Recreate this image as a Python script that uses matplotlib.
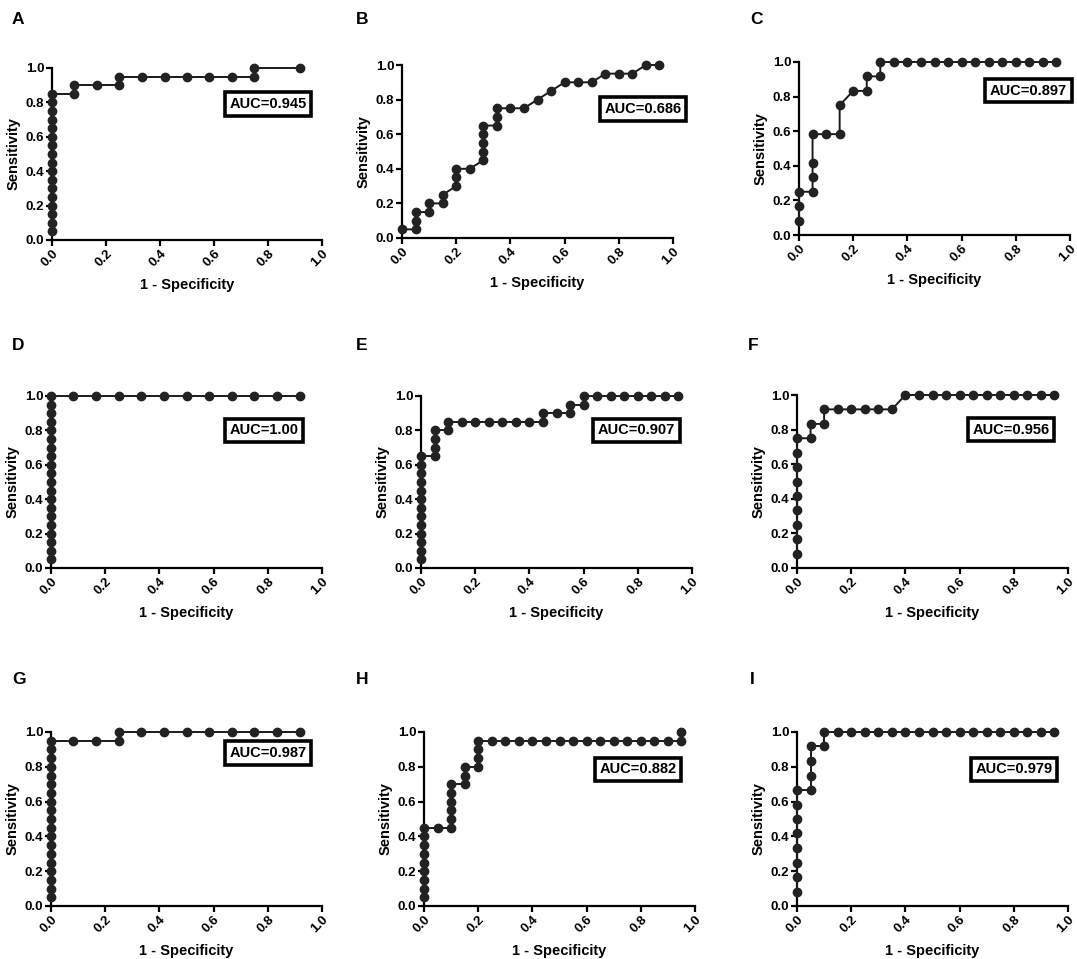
import matplotlib
matplotlib.use("Agg")
import matplotlib.pyplot as plt

plt.rcParams["font.family"] = ["Liberation Sans", "DejaVu Sans"]
plt.rcParams["font.weight"] = "bold"
plt.rcParams["axes.labelweight"] = "bold"

# ROC points per panel (1 - specificity, sensitivity)
a_x = [0, 0, 0, 0, 0, 0, 0, 0, 0, 0, 0, 0, 0, 0, 0, 0, 0,
       0.083, 0.083, 0.167, 0.25, 0.25, 0.333, 0.417, 0.5, 0.583, 0.667, 0.75, 0.75, 0.917]
a_y = [0.05, 0.10, 0.15, 0.20, 0.25, 0.30, 0.35, 0.40, 0.45, 0.50, 0.55, 0.60, 0.65, 0.70, 0.75, 0.80, 0.85,
       0.85, 0.90, 0.90, 0.90, 0.95, 0.95, 0.95, 0.95, 0.95, 0.95, 0.95, 1.00, 1.00]

b_x = [0, 0.05, 0.05, 0.05, 0.10, 0.10, 0.15, 0.15, 0.20, 0.20, 0.20, 0.25, 0.30, 0.30, 0.30, 0.30, 0.30,
       0.35, 0.35, 0.35, 0.40, 0.45, 0.50, 0.55, 0.60, 0.65, 0.70, 0.75, 0.80, 0.85, 0.90, 0.95]
b_y = [0.05, 0.05, 0.10, 0.15, 0.15, 0.20, 0.20, 0.25, 0.30, 0.35, 0.40, 0.40, 0.45, 0.50, 0.55, 0.60, 0.65,
       0.65, 0.70, 0.75, 0.75, 0.75, 0.80, 0.85, 0.90, 0.90, 0.90, 0.95, 0.95, 0.95, 1.00, 1.00]

c_x = [0, 0, 0, 0.05, 0.05, 0.05, 0.05, 0.10, 0.15, 0.15, 0.20, 0.25, 0.25, 0.30, 0.30,
       0.35, 0.40, 0.45, 0.50, 0.55, 0.60, 0.65, 0.70, 0.75, 0.80, 0.85, 0.90, 0.95]
c_y = [0.083, 0.167, 0.25, 0.25, 0.333, 0.417, 0.583, 0.583, 0.583, 0.75, 0.833, 0.833, 0.917, 0.917, 1.0,
       1.0, 1.0, 1.0, 1.0, 1.0, 1.0, 1.0, 1.0, 1.0, 1.0, 1.0, 1.0, 1.0]

d_x = [0, 0, 0, 0, 0, 0, 0, 0, 0, 0, 0, 0, 0, 0, 0, 0, 0, 0, 0, 0,
       0.083, 0.167, 0.25, 0.333, 0.417, 0.5, 0.583, 0.667, 0.75, 0.833, 0.917]
d_y = [0.05, 0.10, 0.15, 0.20, 0.25, 0.30, 0.35, 0.40, 0.45, 0.50, 0.55, 0.60, 0.65, 0.70, 0.75, 0.80, 0.85,
       0.90, 0.95, 1.00,
       1.0, 1.0, 1.0, 1.0, 1.0, 1.0, 1.0, 1.0, 1.0, 1.0, 1.0]

e_x = [0, 0, 0, 0, 0, 0, 0, 0, 0, 0, 0, 0, 0,
       0.05, 0.05, 0.05, 0.05, 0.10, 0.10, 0.15, 0.20, 0.25, 0.30, 0.35, 0.40, 0.45, 0.45, 0.50,
       0.55, 0.55, 0.60, 0.60, 0.65, 0.70, 0.75, 0.80, 0.85, 0.90, 0.95]
e_y = [0.05, 0.10, 0.15, 0.20, 0.25, 0.30, 0.35, 0.40, 0.45, 0.50, 0.55, 0.60, 0.65,
       0.65, 0.70, 0.75, 0.80, 0.80, 0.85, 0.85, 0.85, 0.85, 0.85, 0.85, 0.85, 0.85, 0.90, 0.90,
       0.90, 0.95, 0.95, 1.00, 1.00, 1.00, 1.00, 1.00, 1.00, 1.00, 1.00]

f_x = [0, 0, 0, 0, 0, 0, 0, 0, 0, 0.05, 0.05, 0.10, 0.10, 0.15, 0.20, 0.25, 0.30, 0.35,
       0.40, 0.45, 0.50, 0.55, 0.60, 0.65, 0.70, 0.75, 0.80, 0.85, 0.90, 0.95]
f_y = [0.083, 0.167, 0.25, 0.333, 0.417, 0.5, 0.583, 0.667, 0.75, 0.75, 0.833, 0.833, 0.917,
       0.917, 0.917, 0.917, 0.917, 0.917,
       1.0, 1.0, 1.0, 1.0, 1.0, 1.0, 1.0, 1.0, 1.0, 1.0, 1.0, 1.0]

g_x = [0, 0, 0, 0, 0, 0, 0, 0, 0, 0, 0, 0, 0, 0, 0, 0, 0, 0, 0,
       0.083, 0.167, 0.25, 0.25, 0.333, 0.417, 0.5, 0.583, 0.667, 0.75, 0.833, 0.917]
g_y = [0.05, 0.10, 0.15, 0.20, 0.25, 0.30, 0.35, 0.40, 0.45, 0.50, 0.55, 0.60, 0.65, 0.70, 0.75, 0.80, 0.85,
       0.90, 0.95,
       0.95, 0.95, 0.95, 1.0, 1.0, 1.0, 1.0, 1.0, 1.0, 1.0, 1.0, 1.0]

h_x = [0, 0, 0, 0, 0, 0, 0, 0, 0, 0.05, 0.10, 0.10, 0.10, 0.10, 0.10, 0.10, 0.15, 0.15, 0.15,
       0.20, 0.20, 0.20, 0.20, 0.25, 0.30, 0.35, 0.40, 0.45, 0.50, 0.55, 0.60, 0.65, 0.70,
       0.75, 0.80, 0.85, 0.90, 0.95, 0.95]
h_y = [0.05, 0.10, 0.15, 0.20, 0.25, 0.30, 0.35, 0.40, 0.45, 0.45, 0.45, 0.50, 0.55, 0.60, 0.65, 0.70,
       0.70, 0.75, 0.80, 0.80, 0.85, 0.90, 0.95, 0.95, 0.95, 0.95, 0.95, 0.95, 0.95, 0.95, 0.95,
       0.95, 0.95, 0.95, 0.95, 0.95, 0.95, 0.95, 1.00]

i_x = [0, 0, 0, 0, 0, 0, 0, 0, 0.05, 0.05, 0.05, 0.05, 0.10, 0.10,
       0.15, 0.20, 0.25, 0.30, 0.35, 0.40, 0.45, 0.50, 0.55, 0.60, 0.65, 0.70, 0.75, 0.80, 0.85, 0.90, 0.95]
i_y = [0.083, 0.167, 0.25, 0.333, 0.417, 0.5, 0.583, 0.667, 0.667, 0.75, 0.833, 0.917, 0.917, 1.0,
       1.0, 1.0, 1.0, 1.0, 1.0, 1.0, 1.0, 1.0, 1.0, 1.0, 1.0, 1.0, 1.0, 1.0, 1.0, 1.0, 1.0]

panel_letters = ["A", "B", "C", "D", "E", "F", "G", "H", "I"]
auc_labels = ["AUC=0.945", "AUC=0.686", "AUC=0.897", "AUC=1.00", "AUC=0.907",
              "AUC=0.956", "AUC=0.987", "AUC=0.882", "AUC=0.979"]
xs = [a_x, b_x, c_x, d_x, e_x, f_x, g_x, h_x, i_x]
ys = [a_y, b_y, c_y, d_y, e_y, f_y, g_y, h_y, i_y]

# layout in pixels: (x0, x1, y_top, y_bottom) of the plot area
W, H = 1077, 959
boxes = [(52, 322, 68, 240), (402, 673, 65, 238), (799, 1070, 62, 235),
         (51, 322, 396, 568), (421, 692, 396, 568), (797, 1068, 395, 568),
         (51, 322, 732, 906), (424, 695, 732, 906), (797, 1068, 732, 906)]
auc_pos = [(0.80, 0.79), (0.89, 0.745), (0.847, 0.835),
           (0.785, 0.80), (0.795, 0.80), (0.79, 0.80),
           (0.80, 0.88), (0.79, 0.785), (0.80, 0.785)]
letter_pos = [(12, 19), (356, 19), (750, 19),
              (12, 346), (356, 346), (748, 346),
              (12, 679), (356, 679), (750, 679)]

fig = plt.figure(figsize=(W / 100, H / 100), dpi=100)

for k in range(9):
    x0, x1, yt, yb = boxes[k]
    ax = fig.add_axes([x0 / W, (H - yb) / H, (x1 - x0) / W, (yb - yt) / H])
    ax.plot(xs[k], ys[k], color="#1a1a1a", lw=1.4, marker="o", ms=6,
            markerfacecolor="#222222", markeredgecolor="#222222", clip_on=False, zorder=3)
    ax.set_xlim(0, 1)
    ax.set_ylim(0, 1)
    ax.set_xticks([0, 0.2, 0.4, 0.6, 0.8, 1.0])
    ax.set_yticks([0, 0.2, 0.4, 0.6, 0.8, 1.0])
    ax.set_xticklabels(["0.0", "0.2", "0.4", "0.6", "0.8", "1.0"], rotation=45,
                       ha="right", rotation_mode="anchor", fontsize=9.5, fontweight="bold")
    ax.set_yticklabels(["0.0", "0.2", "0.4", "0.6", "0.8", "1.0"], fontsize=9.5, fontweight="bold")
    for s in ["top", "right"]:
        ax.spines[s].set_visible(False)
    for s in ["left", "bottom"]:
        ax.spines[s].set_linewidth(1.6)
    ax.tick_params(direction="out", length=4, width=1.6, pad=1.5)
    ax.set_xlabel("1 - Specificity", fontsize=10.5, fontweight="bold", labelpad=6)
    ax.set_ylabel("Sensitivity", fontsize=10.5, fontweight="bold", labelpad=4)
    ax.text(auc_pos[k][0], auc_pos[k][1], auc_labels[k], transform=ax.transAxes,
            ha="center", va="center", fontsize=10.5, fontweight="bold",
            bbox=dict(boxstyle="square,pad=0.32", fc="white", ec="black", lw=2.6), zorder=5)
    fig.text(letter_pos[k][0] / W, 1 - letter_pos[k][1] / H, panel_letters[k],
             fontsize=12.5, fontweight="bold", ha="left", va="center")

fig.savefig("out.png", dpi=100)
